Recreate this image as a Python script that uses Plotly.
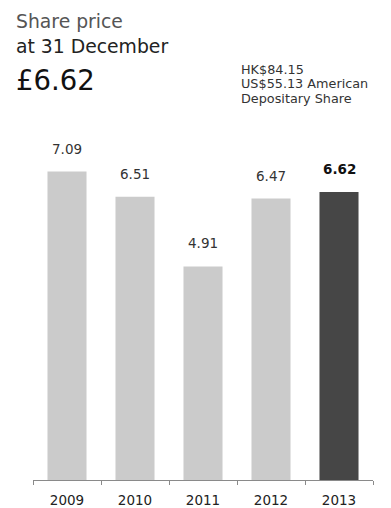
import plotly.graph_objects as go

# Share price at 31 December, £
years = ["2009", "2010", "2011", "2012", "2013"]
prices = [7.09, 6.51, 4.91, 6.47, 6.62]
price_labels = ["7.09", "6.51", "4.91", "6.47", "6.62"]
bar_colors = ["#cbcbcb", "#cbcbcb", "#cbcbcb", "#cbcbcb", "#464646"]

headline = "£6.62"
other_prices = ["HK$84.15", "US$55.13 American", "Depositary Share"]

FONT = "DejaVu Sans"
W, H = 391, 508
L, R, T, B = 33, 18, 140, 28
plot_w = W - L - R
plot_h = H - T - B


def px_x(px):
    return (px - L) / plot_w


def px_y(py):
    return (H - B - py) / plot_h


fig = go.Figure(
    go.Bar(
        x=years,
        y=prices,
        marker=dict(color=bar_colors, line=dict(width=0)),
        hoverinfo="skip",
    )
)

annotations = []
# value labels above the bars (category index as x); the latest year in bold
for i, (val, lab) in enumerate(zip(prices, price_labels)):
    latest = i == len(years) - 1
    annotations.append(dict(
        x=i, y=val, xref="x", yref="y",
        text=f"<b>{lab}</b>" if latest else lab,
        showarrow=False, yanchor="bottom", yshift=13,
        font=dict(family=FONT, size=13.5, color="#111" if latest else "#333"),
    ))

# heading block
annotations += [
    dict(x=px_x(14), y=px_y(22), xref="paper", yref="paper", text="Share price",
         showarrow=False, xanchor="left", yanchor="middle",
         font=dict(family=FONT, size=18.8, color="#555")),
    dict(x=px_x(14), y=px_y(46.5), xref="paper", yref="paper", text="at 31 December",
         showarrow=False, xanchor="left", yanchor="middle",
         font=dict(family=FONT, size=18.8, color="#222")),
    dict(x=px_x(14), y=px_y(80), xref="paper", yref="paper", text=headline,
         showarrow=False, xanchor="left", yanchor="middle",
         font=dict(family=FONT, size=27.5, color="#111")),
]
for k, line in enumerate(other_prices):
    annotations.append(dict(
        x=px_x(240), y=px_y(69.5 + 14.5 * k), xref="paper", yref="paper", text=line,
        showarrow=False, xanchor="left", yanchor="middle", borderpad=0,
        font=dict(family=FONT, size=12.8, color="#333"),
    ))

fig.update_layout(
    width=W, height=H,
    margin=dict(l=L, r=R, t=T, b=B, pad=0, autoexpand=False),
    paper_bgcolor="white", plot_bgcolor="white",
    bargap=0.426,
    showlegend=False,
    font=dict(family=FONT),
    annotations=annotations,
    xaxis=dict(
        type="category", range=[-0.5, len(years) - 0.5],
        automargin=False,
        showline=True, linecolor="#8a8a8a", linewidth=1,
        ticks="outside", tickson="boundaries", ticklen=4, tickcolor="#8a8a8a",
        ticklabelstandoff=8,
        tickfont=dict(family=FONT, size=13.5, color="#222"),
        showgrid=False, zeroline=False, fixedrange=True,
    ),
    yaxis=dict(
        range=[0, plot_h / 43.5],
        visible=False, showgrid=False, zeroline=False, fixedrange=True,
    ),
)

fig.write_html("out.html", config={"displayModeBar": False})
